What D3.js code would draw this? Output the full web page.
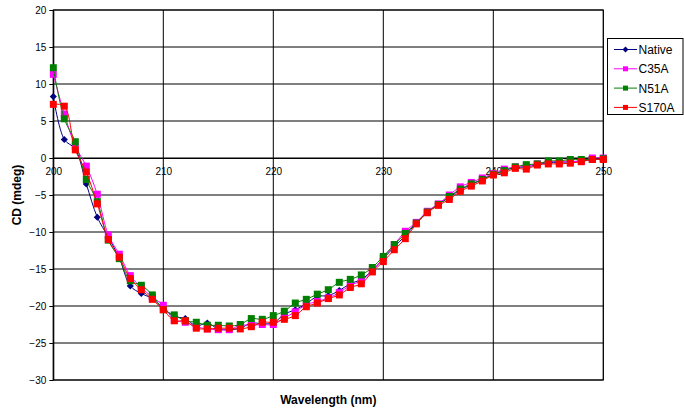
<!DOCTYPE html>
<html>
<head>
<meta charset="utf-8">
<script src="https://cdn.jsdelivr.net/npm/d3@7"></script>
<style>
  body { margin: 0; background: #fff; }
  svg text { font-family: "Liberation Sans", Arial, sans-serif; }
</style>
</head>
<body>
<div id="chart"></div>
<script>
// CD spectra of the wild type and three mutants

const wavelengths = d3.range(200, 251); // 200..250 nm, 1 nm steps

const nativeCD = [8.3, 2.5, 1.2, -3.5, -8.0, -10.7, -13.5, -17.3, -18.3, -19.0,
  -20.3, -21.4, -21.7, -22.7, -22.3, -23.1, -23.2, -23.0, -22.3, -22.4,
  -22.3, -21.1, -20.5, -19.7, -18.7, -18.6, -17.9, -17.0, -16.4, -15.2,
  -13.6, -12.0, -10.5, -8.8, -7.3, -6.3, -5.3, -4.3, -3.6, -2.9,
  -2.2, -1.7, -1.3, -1.2, -0.9, -0.6, -0.6, -0.5, -0.4, -0.2, -0.2];

const c35aCD = [11.3, 5.95, 1.6, -1.1, -4.9, -10.4, -13.0, -15.9, -17.5, -18.8,
  -19.9, -21.9, -22.2, -22.8, -23.1, -23.2, -23.2, -22.6, -22.6, -22.5,
  -22.5, -21.6, -20.8, -19.8, -19.4, -18.9, -18.2, -17.2, -16.6, -15.3,
  -13.5, -11.7, -9.9, -8.7, -7.2, -6.2, -5.0, -3.9, -3.3, -2.7,
  -2.1, -1.5, -1.2, -1.1, -0.8, -0.5, -0.5, -0.5, -0.4, 0.0, 0.0];

const n51aCD = [12.2, 5.3, 2.2, -2.9, -5.9, -11.1, -13.6, -16.6, -17.2, -18.5,
  -20.5, -21.2, -22.0, -22.2, -22.6, -22.6, -22.7, -22.5, -21.7, -21.8,
  -21.3, -20.7, -19.6, -19.1, -18.4, -17.8, -16.8, -16.4, -15.8, -14.8,
  -13.3, -11.7, -10.2, -8.8, -7.3, -6.3, -5.2, -4.2, -3.5, -2.9,
  -2.2, -1.7, -1.2, -0.9, -0.8, -0.4, -0.4, -0.2, -0.2, -0.2, -0.1];

const s170aCD = [7.25, 7.0, 1.1, -1.9, -6.2, -11.0, -13.4, -16.3, -17.8, -19.1,
  -20.5, -22.0, -22.0, -23.0, -23.1, -23.0, -23.0, -23.1, -22.8, -22.2,
  -22.2, -21.8, -21.3, -20.1, -19.6, -19.0, -18.5, -17.5, -17.0, -15.4,
  -14.0, -12.4, -10.9, -8.9, -7.4, -6.4, -5.6, -4.5, -3.8, -3.1,
  -2.3, -2.0, -1.4, -1.5, -0.95, -0.8, -0.8, -0.7, -0.5, -0.2, -0.2];

const seriesNames = ["Native", "C35A", "N51A", "S170A"];
const seriesColors = ["#000080", "#ff00ff", "#008000", "#ff0000"];
const seriesShapes = ["diamond", "square", "square", "square"];
const seriesValues = [nativeCD, c35aCD, n51aCD, s170aCD];

const xTicks = [200, 210, 220, 230, 240, 250];
const yTicks = [-30, -25, -20, -15, -10, -5, 0, 5, 10, 15, 20];

const W = 684, H = 412;
const plot = {left: 53.3, right: 603.3, top: 10, bottom: 380};

const svg = d3.select("#chart").append("svg")
    .attr("width", W)
    .attr("height", H);

svg.append("rect").attr("width", W).attr("height", H).attr("fill", "#fff");

const x = d3.scaleLinear().domain([200, 250]).range([plot.left, plot.right]);
const y = d3.scaleLinear().domain([-30, 20]).range([plot.bottom, plot.top]);

// horizontal gridlines
svg.append("g")
    .selectAll("line")
    .data(yTicks)
    .join("line")
    .attr("x1", plot.left).attr("x2", plot.right)
    .attr("y1", d => y(d)).attr("y2", d => y(d))
    .attr("stroke", "#000")
    .attr("stroke-width", 1);

// vertical gridlines
svg.append("g")
    .selectAll("line")
    .data(xTicks)
    .join("line")
    .attr("x1", d => x(d)).attr("x2", d => x(d))
    .attr("y1", plot.top).attr("y2", plot.bottom)
    .attr("stroke", "#000")
    .attr("stroke-width", 1);

// plot border
svg.append("rect")
    .attr("x", plot.left).attr("y", plot.top)
    .attr("width", plot.right - plot.left)
    .attr("height", plot.bottom - plot.top)
    .attr("fill", "none")
    .attr("stroke", "#000");

// y axis with ticks and labels
const yAxis = svg.append("g")
    .attr("transform", `translate(${plot.left},0)`)
    .call(d3.axisLeft(y).tickValues(yTicks).tickSize(4).tickPadding(3).tickSizeOuter(0));
yAxis.select(".domain").attr("stroke", "#000");
yAxis.selectAll("text").style("font-size", "10px").attr("fill", "#000");

// x axis crosses at 0
const xAxis = svg.append("g")
    .attr("transform", `translate(0,${y(0)})`)
    .call(d3.axisBottom(x).tickValues(xTicks).tickSize(0).tickPadding(10).tickSizeOuter(0));
xAxis.select(".domain").attr("stroke", "#000");
xAxis.selectAll("text").style("font-size", "10px").attr("fill", "#000");

// clip to plot area
svg.append("clipPath").attr("id", "clip")
  .append("rect")
    .attr("x", plot.left - 4).attr("y", plot.top - 4)
    .attr("width", plot.right - plot.left + 8)
    .attr("height", plot.bottom - plot.top + 8);

const line = d3.line()
    .x((d, i) => x(wavelengths[i]))
    .y(d => y(d))
    .curve(d3.curveCatmullRom.alpha(0.5));

const drawMarker = (sel, shape, color, size) => {
  if (shape === "diamond") {
    sel.append("path")
      .attr("d", d3.symbol(d3.symbolDiamond2, size * size * 0.9)())
      .attr("fill", color);
  } else {
    sel.append("rect")
      .attr("x", -size / 2).attr("y", -size / 2)
      .attr("width", size).attr("height", size)
      .attr("fill", color);
  }
};

const layer = svg.append("g").attr("clip-path", "url(#clip)");

seriesValues.forEach((vals, k) => {
  const g = layer.append("g");
  g.append("path")
    .datum(vals)
    .attr("fill", "none")
    .attr("stroke", seriesColors[k])
    .attr("stroke-width", 1)
    .attr("d", line);

  g.selectAll("g.pt")
    .data(vals)
    .join("g")
    .attr("class", "pt")
    .attr("transform", (d, i) => `translate(${x(wavelengths[i])},${y(d)})`)
    .each(function() {
      drawMarker(d3.select(this), seriesShapes[k], seriesColors[k], seriesShapes[k] === "diamond" ? 6 : 7);
    });
});

// axis titles
svg.append("text")
    .attr("x", (plot.left + plot.right) / 2)
    .attr("y", 404)
    .attr("text-anchor", "middle")
    .style("font-size", "12px")
    .style("font-weight", "bold")
    .text("Wavelength (nm)");

svg.append("text")
    .attr("transform", `translate(21,${(plot.top + plot.bottom) / 2}) rotate(-90)`)
    .attr("text-anchor", "middle")
    .style("font-size", "12px")
    .style("font-weight", "bold")
    .text("CD (mdeg)");

// legend
const legend = svg.append("g").attr("transform", "translate(607.5,38.5)");
legend.append("rect")
    .attr("width", 75.5).attr("height", 76)
    .attr("fill", "#fff")
    .attr("stroke", "#000");

seriesNames.forEach((name, k) => {
  const row = legend.append("g").attr("transform", `translate(0,${11 + k * 19.3})`);
  row.append("line")
    .attr("x1", 6.5).attr("x2", 29.5)
    .attr("stroke", seriesColors[k]);
  const m = row.append("g").attr("transform", "translate(18,0)");
  drawMarker(m, seriesShapes[k], seriesColors[k], 5);
  row.append("text")
    .attr("x", 31)
    .attr("y", 4.5)
    .style("font-size", "12px")
    .attr("fill", "#000")
    .text(name);
});
</script>
</body>
</html>
